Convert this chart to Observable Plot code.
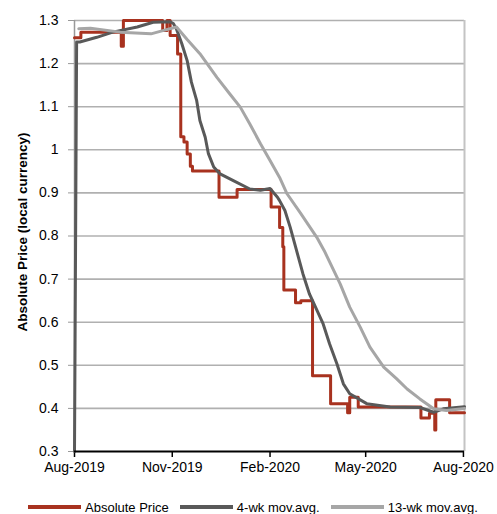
<!DOCTYPE html>
<html>
<head>
<meta charset="utf-8">
<script src="https://cdn.jsdelivr.net/npm/d3@7"></script>
<script src="https://cdn.jsdelivr.net/npm/@observablehq/plot@0.6"></script>
<style>
  html, body { margin: 0; padding: 0; background: #fff; }
  #legend { display: flex; align-items: center; padding-left: 28px; margin-top: 8px; height: 18px;
    font-family: 'Liberation Sans',Arial,sans-serif; font-size: 13px; color: #000; }
  #legend .item { display: flex; align-items: center; margin-right: 11px; white-space: nowrap; }
  #legend .sw { display: inline-block; width: 53px; height: 4px; margin-right: 4px; }
</style>
</head>
<body>
<div id="chart"></div>
<div id="legend"></div>
<script>
// ---- Data ----
const seriesNames = ["Absolute Price", "4-wk mov.avg.", "13-wk mov.avg."];
const seriesColors = ["#a8321f", "#595959", "#a6a6a6"];

const priceDates = ["2019-08-01","2019-08-07","2019-09-14","2019-09-16","2019-10-23","2019-10-27","2019-10-30","2019-11-06","2019-11-09","2019-11-12","2019-11-15","2019-11-18","2019-11-20","2019-12-15","2020-01-01","2020-02-02","2020-02-10","2020-02-13","2020-02-14","2020-02-25","2020-03-01","2020-03-12","2020-03-29","2020-04-14","2020-04-16","2020-04-24","2020-06-22","2020-06-30","2020-07-05","2020-07-06","2020-07-19","2020-08-02"];
const priceValues = [1.26,1.273,1.24,1.3,1.277,1.3,1.265,1.222,1.03,1.018,0.99,0.962,0.951,0.89,0.908,0.867,0.82,0.775,0.675,0.645,0.65,0.476,0.411,0.39,0.426,0.403,0.378,0.389,0.35,0.42,0.39,0.39];

const ma4Dates = ["2019-08-01","2019-08-03","2019-08-06","2019-08-22","2019-09-06","2019-09-29","2019-10-14","2019-10-30","2019-11-02","2019-11-05","2019-11-10","2019-11-15","2019-11-19","2019-11-24","2019-11-27","2019-12-02","2019-12-05","2019-12-10","2019-12-16","2019-12-28","2020-01-13","2020-01-23","2020-02-01","2020-02-08","2020-02-10","2020-02-15","2020-02-20","2020-02-26","2020-03-03","2020-03-09","2020-03-12","2020-03-22","2020-03-28","2020-04-04","2020-04-10","2020-04-16","2020-05-02","2020-05-24","2020-06-21","2020-07-04","2020-07-13","2020-08-02"];
const ma4Values = [0.3,1.25,1.25,1.261,1.273,1.285,1.296,1.297,1.293,1.28,1.246,1.207,1.157,1.114,1.068,1.029,0.991,0.96,0.944,0.929,0.909,0.906,0.91,0.89,0.882,0.859,0.82,0.766,0.712,0.666,0.65,0.596,0.55,0.503,0.457,0.434,0.411,0.403,0.402,0.391,0.399,0.404];

const ma13Dates = ["2019-08-05","2019-08-16","2019-09-13","2019-10-12","2019-10-24","2019-11-05","2019-11-15","2019-11-27","2019-12-13","2019-12-25","2020-01-04","2020-01-13","2020-01-23","2020-02-01","2020-02-10","2020-02-17","2020-03-01","2020-03-16","2020-03-23","2020-04-07","2020-04-16","2020-04-26","2020-05-05","2020-05-18","2020-05-30","2020-06-09","2020-06-21","2020-07-04","2020-07-16","2020-08-02"];
const ma13Values = [1.281,1.282,1.273,1.269,1.277,1.285,1.256,1.223,1.168,1.13,1.099,1.06,1.014,0.975,0.936,0.898,0.852,0.797,0.766,0.689,0.635,0.588,0.542,0.496,0.469,0.445,0.422,0.399,0.395,0.4];

const xTickDates = ["2019-08-01","2019-11-01","2020-02-01","2020-05-01","2020-08-01"];
const yTickValues = [0.3,0.4,0.5,0.6,0.7,0.8,0.9,1.0,1.1,1.2,1.3];
const xDomain = ["2019-08-01","2020-08-02"];
const yLabel = "Absolute Price (local currency)";

// ---- Build ----
const toRows = (dates, values) => dates.map((d, i) => ({date: new Date(d), value: values[i]}));
const price = toRows(priceDates, priceValues);
const ma4 = toRows(ma4Dates, ma4Values);
const ma13 = toRows(ma13Dates, ma13Values);
const xTicks = xTickDates.map(d => new Date(d));
const xDom = xDomain.map(d => new Date(d));
const FONT = "'Liberation Sans',Arial,sans-serif";

const chart = Plot.plot({
  width: 497,
  height: 490,
  marginLeft: 74,
  marginRight: 33,
  marginTop: 20,
  marginBottom: 39,
  style: {fontFamily: FONT, fontSize: "14px", color: "#000", background: "#fff"},
  x: {type: "utc", domain: xDom},
  y: {domain: [0.3, 1.3]},
  marks: [
    Plot.ruleY(yTickValues.slice(1), {stroke: "#b0b0b0", strokeWidth: 1.6}),
    Plot.ruleX([xDom[1]], {stroke: "#c4c4c4", strokeWidth: 2}),
    Plot.ruleX([xDom[0]], {stroke: "#999", strokeWidth: 1.5}),
    Plot.axisY({ticks: yTickValues, tickFormat: d3.format("~g"), tickSize: 6, tickPadding: 10, stroke: "#999", label: null, fontSize: 14}),
    Plot.axisX({ticks: xTicks, tickFormat: d3.utcFormat("%b-%Y"), tickSize: 6, tickPadding: 5, label: null, fontSize: 14, strokeWidth: 1.5}),
    Plot.line(price, {x: "date", y: "value", curve: "step-after", stroke: seriesColors[0], strokeWidth: 3}),
    Plot.line(ma4, {x: "date", y: "value", stroke: seriesColors[1], strokeWidth: 3}),
    Plot.line(ma13, {x: "date", y: "value", stroke: seriesColors[2], strokeWidth: 3}),
    Plot.ruleY([0.3], {stroke: "#000", strokeWidth: 2}),
    Plot.text([yLabel], {frameAnchor: "left", textAnchor: "middle", dx: -52, dy: -4, rotate: -90, fontWeight: "bold", fontSize: 13.5})
  ]
});
document.getElementById("chart").appendChild(chart);

const legend = document.getElementById("legend");
seriesNames.forEach((name, i) => {
  const item = document.createElement("span");
  item.className = "item";
  const sw = document.createElement("span");
  sw.className = "sw";
  sw.style.background = seriesColors[i];
  item.appendChild(sw);
  item.appendChild(document.createTextNode(name));
  legend.appendChild(item);
});
</script>
</body>
</html>
